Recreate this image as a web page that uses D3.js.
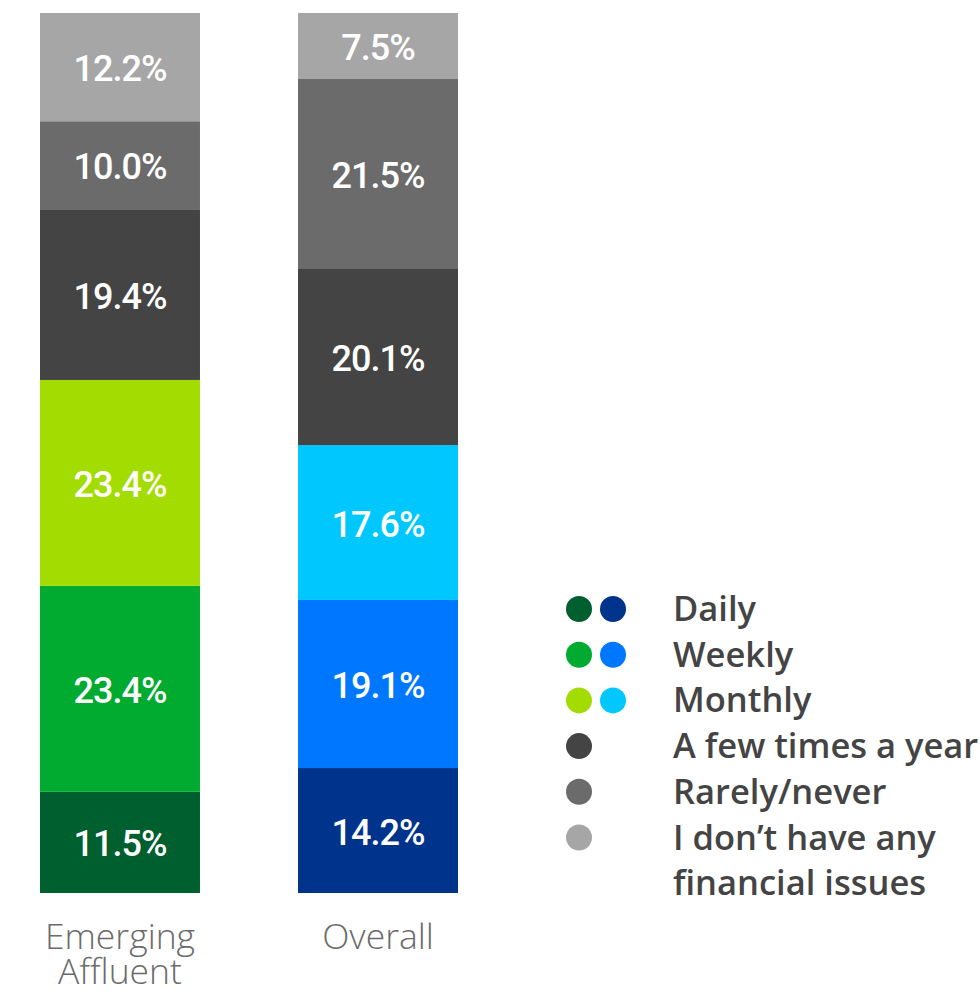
<!DOCTYPE html>
<html>
<head>
<meta charset="utf-8">
<script src="https://cdn.jsdelivr.net/npm/d3@7"></script>
<style>
  html, body { margin: 0; padding: 0; background: #fff; }
  svg { display: block; }
</style>
</head>
<body>
<svg id="chart" width="980" height="996"></svg>
<script>
// Response categories, stacked bottom to top
const categories = ["Daily", "Weekly", "Monthly", "A few times a year", "Rarely/never", "I don’t have any financial issues"];
const groups = ["Emerging Affluent", "Overall"];
const emergingAffluent = [11.5, 23.4, 23.4, 19.4, 10.0, 12.2];
const overall = [14.2, 19.1, 17.6, 20.1, 21.5, 7.5];

const greenPalette = ["#005f2e", "#00ab30", "#a3dc00", "#444444", "#6b6b6b", "#a6a6a6"];
const bluePalette  = ["#00338c", "#0077ff", "#00c8ff", "#444444", "#6b6b6b", "#a6a6a6"];

const seriesByGroup = [emergingAffluent, overall];
const paletteByGroup = [greenPalette, bluePalette];

const svg = d3.select("#chart");

const x = d3.scaleBand().domain(groups).range([40, 458]).paddingInner(0.38).paddingOuter(0);
const y = d3.scaleLinear().domain([0, 100]).range([893, 13]);

groups.forEach((g, gi) => {
  const vals = seriesByGroup[gi];
  let acc = 0;
  const segs = vals.map((v, i) => {
    const s = { i, v, y0: acc, y1: acc + v };
    acc += v;
    return s;
  });
  // last segment fills to the top of the bar
  segs[segs.length - 1].y1 = Math.max(acc, 100);

  const gEl = svg.append("g");
  gEl.selectAll("rect").data(segs).join("rect")
    .attr("x", x(g))
    .attr("width", x.bandwidth())
    .attr("y", d => y(d.y1))
    .attr("height", d => y(d.y0) - y(d.y1))
    .attr("fill", d => paletteByGroup[gi][d.i]);

  gEl.selectAll("text").data(segs).join("text")
    .attr("x", x(g) + x.bandwidth() / 2)
    .attr("y", d => (y(d.y0) + y(d.y1)) / 2 + 2)
    .attr("text-anchor", "middle")
    .attr("dominant-baseline", "central")
    .attr("fill", "#ffffff")
    .attr("font-family", "Roboto, sans-serif")
    .attr("font-weight", 500)
    .attr("letter-spacing", -1)
    .attr("font-size", 36)
    .text(d => d.v.toFixed(1) + "%");
});

// Group labels under the bars
const groupLines = [["Emerging", "Affluent"], ["Overall"]];
groups.forEach((g, gi) => {
  groupLines[gi].forEach((line, li) => {
    svg.append("text")
      .attr("x", x(g) + x.bandwidth() / 2)
      .attr("y", 949 + li * 35)
      .attr("text-anchor", "middle")
      .attr("fill", "#6b6b6b")
      .attr("font-family", "'Open Sans', sans-serif")
      .attr("font-weight", 300)
      .attr("font-size", 35.5)
      .text(line);
  });
});

// Legend
const legend = svg.append("g");
const rowY = d3.scaleLinear().domain([0, 1]).range([609, 654.7]);
const legendLines = [["Daily"], ["Weekly"], ["Monthly"], ["A few times a year"], ["Rarely/never"], ["I don’t have any", "financial issues"]];
categories.forEach((c, i) => {
  const cy = rowY(i);
  legend.append("circle").attr("cx", 579).attr("cy", cy).attr("r", 13).attr("fill", greenPalette[i]);
  if (i < 3) {
    legend.append("circle").attr("cx", 613).attr("cy", cy).attr("r", 13).attr("fill", bluePalette[i]);
  }
  const t = legend.append("text")
    .attr("x", 673)
    .attr("y", cy + 12)
    .attr("fill", "#444444")
    .attr("font-family", "'Open Sans', sans-serif")
    .attr("font-weight", 600)
    .attr("font-size", 34.5);
  legendLines[i].forEach((line, li) => {
    t.append("tspan").attr("x", 673).attr("dy", li === 0 ? 0 : 45.7).text(line);
  });
});
</script>
</body>
</html>
